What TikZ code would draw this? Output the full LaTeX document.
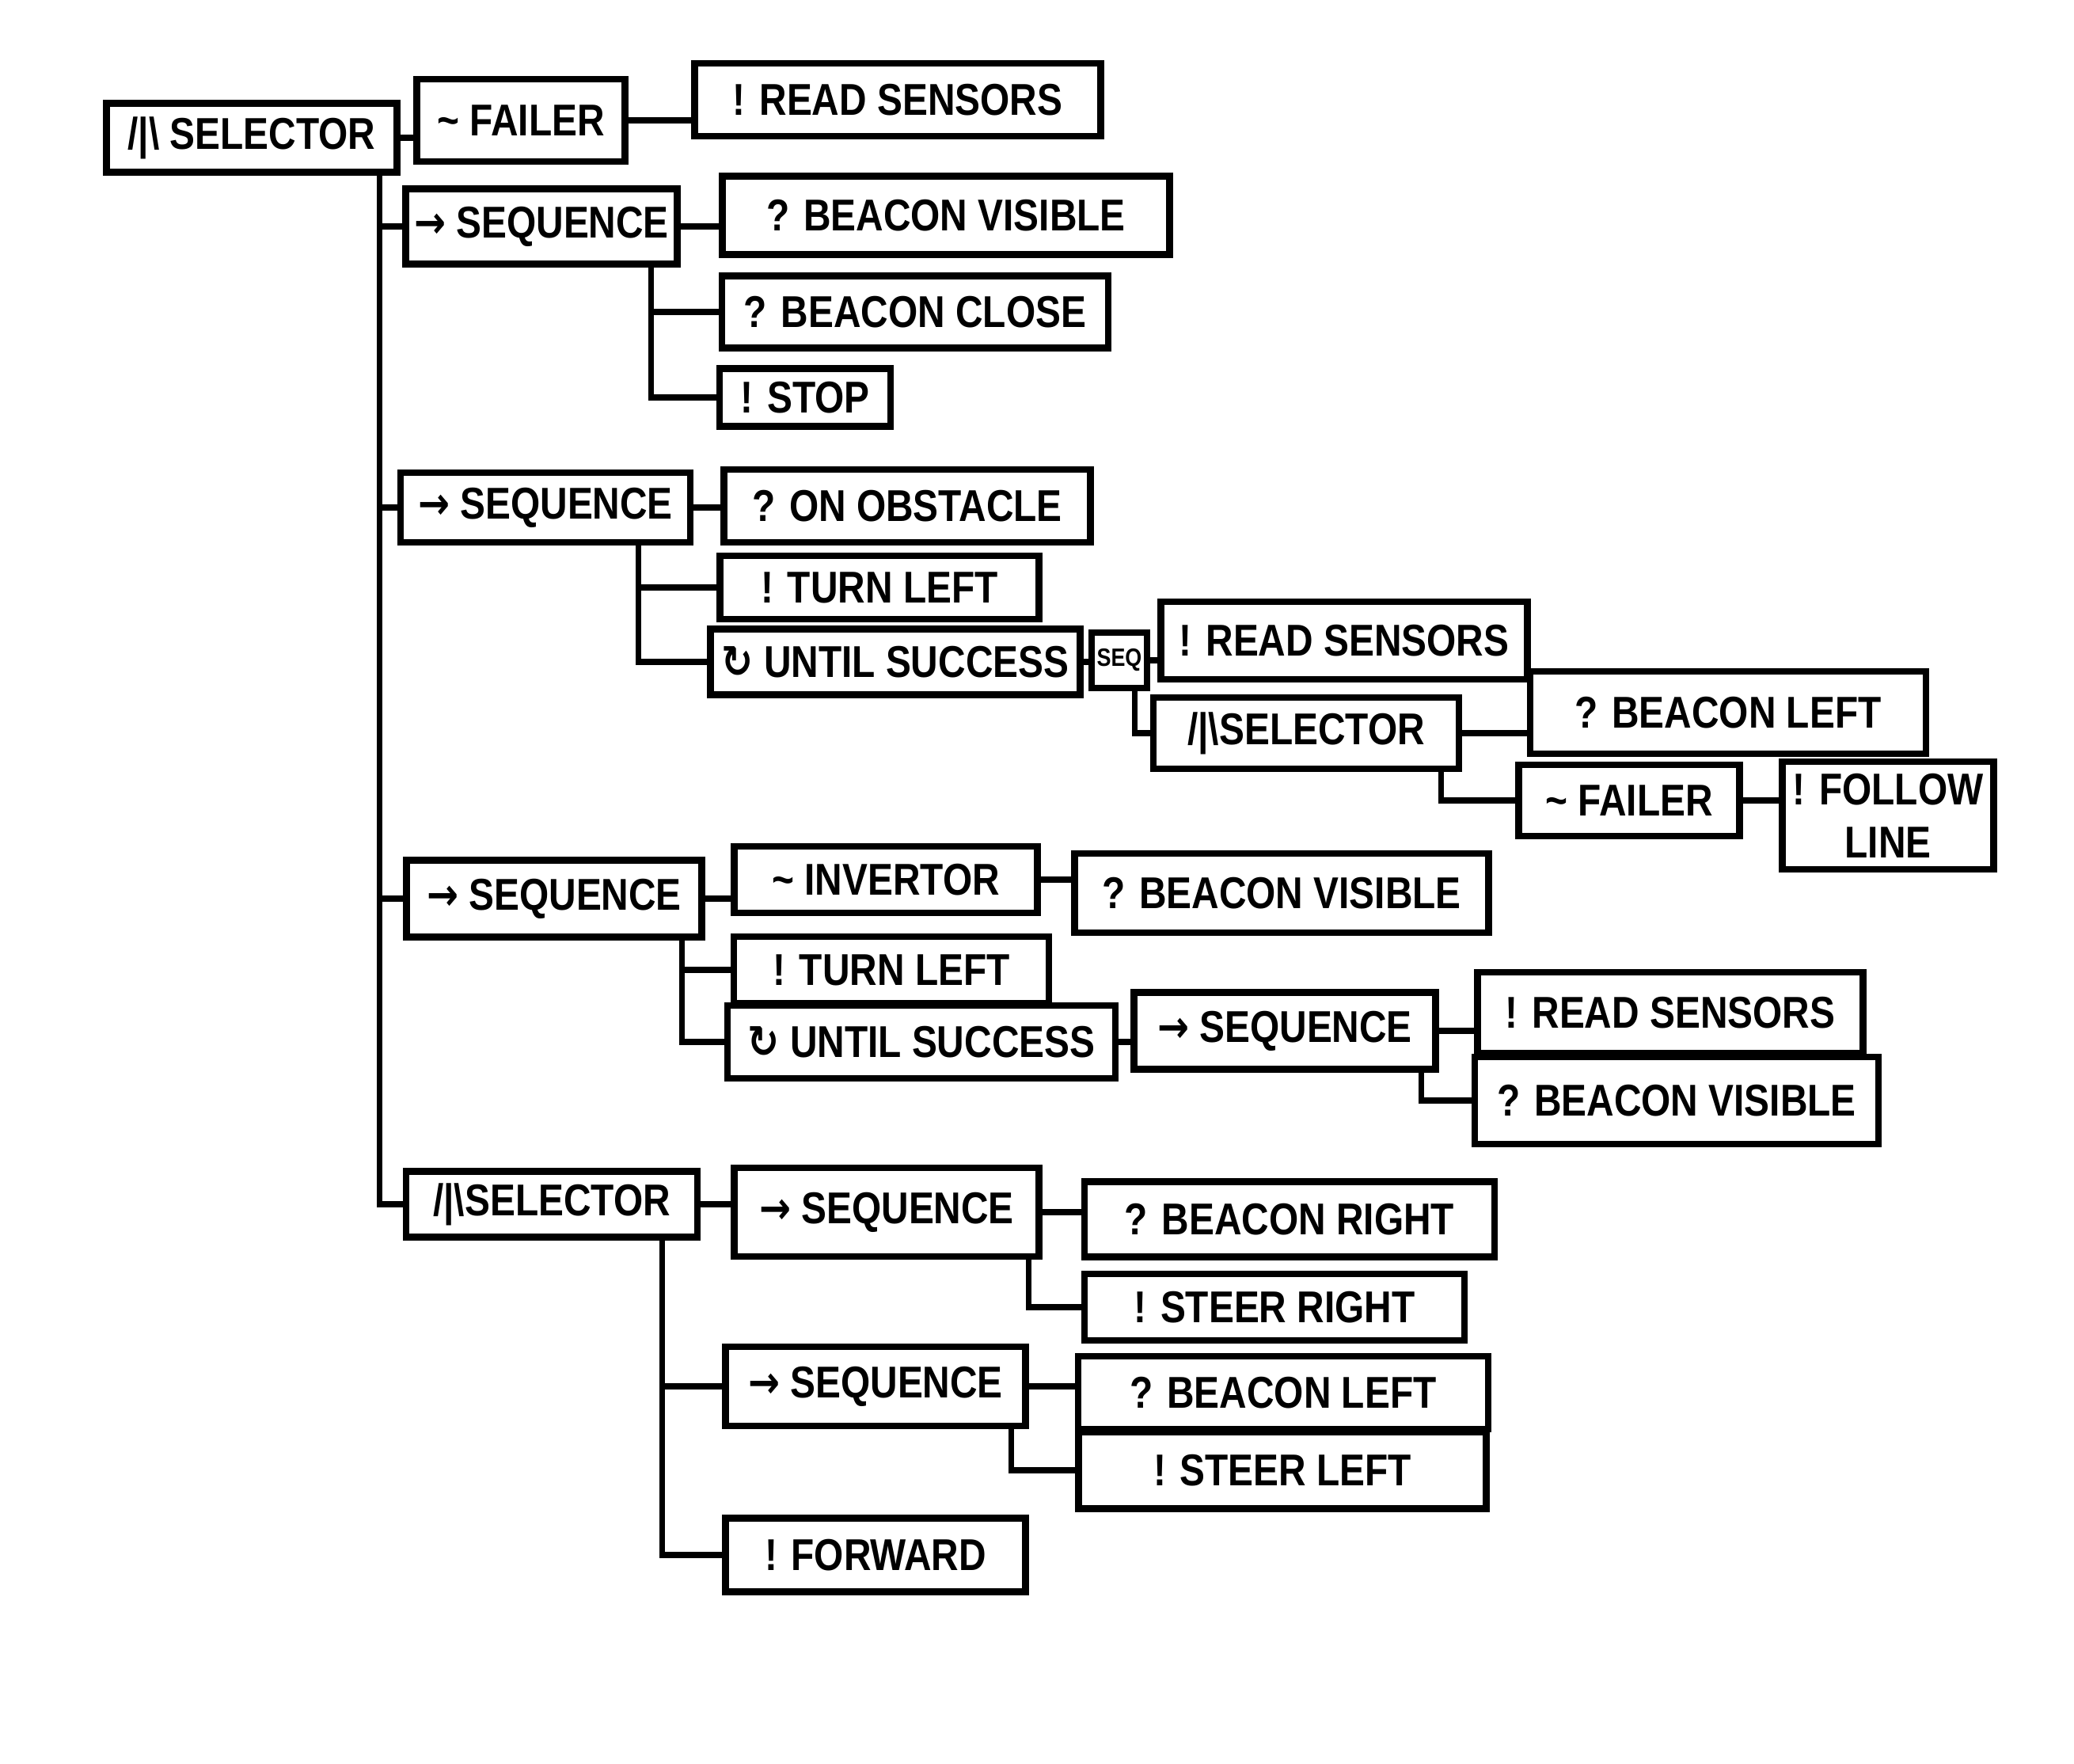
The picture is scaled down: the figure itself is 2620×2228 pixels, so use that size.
\documentclass[tikz,border=0pt]{standalone}
\usepackage{fontspec}
\setmainfont{Liberation Sans}[FakeStretch=0.85]
\newfontfamily\symfont{DejaVu Sans}[FakeStretch=0.85]
\usetikzlibrary{positioning}
\tikzset{
    block/.style={rectangle, draw, line width=2.4pt, align=center, inner sep=3pt, font=\fontsize{16}{19}\selectfont\bfseries},
    small/.style={block, inner sep=1pt, font=\fontsize{9}{10}\selectfont\bfseries},
    link/.style={line width=2pt}
}
\newcommand{\seqsym}{{\symfont →}}
\newcommand{\repsym}{{\symfont ↻}}
\newcommand{\selsym}{/|\textbackslash}

\begin{document}
\begin{tikzpicture}[x=0.01cm, y=-0.01cm]
    \useasboundingbox (0,0) rectangle (2620,2228);

    % Root
    \node[block, minimum width=3.67cm, minimum height=0.87cm] (root) at (318,174) {\selsym\ SELECTOR};
    \node[block, minimum width=2.63cm, minimum height=1.04cm] (failA) at (658,152) {\textasciitilde\ FAILER};
    \node[block, minimum width=5.13cm, minimum height=0.92cm] (readA) at (1134,126) {! READ SENSORS};

    % Branch 1: beacon reached
    \node[block, minimum width=3.37cm, minimum height=0.95cm] (seqA) at (684,286) {\seqsym\ SEQUENCE};
    \node[block, minimum width=5.65cm, minimum height=0.99cm] (visA) at (1195,272) {? BEACON VISIBLE};
    \node[block, minimum width=4.88cm, minimum height=0.91cm] (close) at (1156,394) {? BEACON CLOSE};
    \node[block, minimum width=2.16cm, minimum height=0.73cm] (stop) at (1017,502) {! STOP};

    % Branch 2: obstacle
    \node[block, minimum width=3.66cm, minimum height=0.88cm] (seqB) at (689,641) {\seqsym\ SEQUENCE};
    \node[block, minimum width=4.63cm, minimum height=0.92cm] (obst) at (1146,639) {? ON OBSTACLE};
    \node[block, minimum width=4.03cm, minimum height=0.80cm] (turnA) at (1111,742) {! TURN LEFT};
    \node[block, minimum width=4.67cm, minimum height=0.83cm] (untilA) at (1131,836) {\repsym\ UNTIL SUCCESS};
    \node[small, minimum width=0.70cm, minimum height=0.70cm] (seqS) at (1414,834) {SEQ};
    \node[block, minimum width=4.63cm, minimum height=0.98cm] (readB) at (1698,809) {! READ SENSORS};
    \node[block, minimum width=3.86cm, minimum height=0.90cm] (selIn) at (1650,926) {\selsym SELECTOR};
    \node[block, minimum width=5.00cm, minimum height=1.04cm] (leftA) at (2183,900) {? BEACON LEFT};
    \node[block, minimum width=2.79cm, minimum height=0.90cm] (failB) at (2058,1011) {\textasciitilde\ FAILER};
    \node[block, minimum width=2.67cm, minimum height=1.36cm] (follow) at (2385,1030) {! FOLLOW\\LINE};

    % Branch 3: search for beacon
    \node[block, minimum width=3.73cm, minimum height=0.97cm] (seqC) at (700,1135) {\seqsym\ SEQUENCE};
    \node[block, minimum width=3.83cm, minimum height=0.84cm] (invert) at (1119,1111) {\textasciitilde\ INVERTOR};
    \node[block, minimum width=5.23cm, minimum height=1.00cm] (visB) at (1619,1128) {? BEACON VISIBLE};
    \node[block, minimum width=3.98cm, minimum height=0.84cm] (turnB) at (1126,1225) {! TURN LEFT};
    \node[block, minimum width=4.90cm, minimum height=0.92cm] (untilB) at (1164,1316) {\repsym\ UNTIL SUCCESS};
    \node[block, minimum width=3.81cm, minimum height=0.97cm] (seqD) at (1623,1302) {\seqsym\ SEQUENCE};
    \node[block, minimum width=4.87cm, minimum height=1.02cm] (readC) at (2110,1279) {! READ SENSORS};
    \node[block, minimum width=5.10cm, minimum height=1.10cm] (visC) at (2118,1390) {? BEACON VISIBLE};

    % Branch 4: steering
    \node[block, minimum width=3.68cm, minimum height=0.83cm] (selB) at (697,1521) {\selsym SELECTOR};
    \node[block, minimum width=3.85cm, minimum height=1.12cm] (seqE) at (1120,1531) {\seqsym\ SEQUENCE};
    \node[block, minimum width=5.18cm, minimum height=0.95cm] (right) at (1629,1540) {? BEACON RIGHT};
    \node[block, minimum width=4.80cm, minimum height=0.84cm] (steerR) at (1610,1651) {! STEER RIGHT};
    \node[block, minimum width=3.79cm, minimum height=1.00cm] (seqF) at (1106,1751) {\seqsym\ SEQUENCE};
    \node[block, minimum width=5.18cm, minimum height=0.92cm] (leftB) at (1621,1759) {? BEACON LEFT};
    \node[block, minimum width=5.15cm, minimum height=0.97cm] (steerL) at (1620,1857) {! STEER LEFT};
    \node[block, minimum width=3.79cm, minimum height=0.93cm] (fwd) at (1106,1964) {! FORWARD};

    % Links (first child)
    \draw[link] (root.east) -- (root.east -| failA.west);
    \draw[link] (failA.east) -- (failA.east -| readA.west);
    \draw[link] (seqA.east) -- (seqA.east -| visA.west);
    \draw[link] (seqB.east) -- (seqB.east -| obst.west);
    \draw[link] (untilA.east) -- (untilA.east -| seqS.west);
    \draw[link] (seqS.east) -- (seqS.east -| readB.west);
    \draw[link] (selIn.east) -- (selIn.east -| leftA.west);
    \draw[link] (failB.east) -- (failB.east -| follow.west);
    \draw[link] (seqC.east) -- (seqC.east -| invert.west);
    \draw[link] (invert.east) -- (invert.east -| visB.west);
    \draw[link] (untilB.east) -- (untilB.east -| seqD.west);
    \draw[link] (seqD.east) -- (seqD.east -| readC.west);
    \draw[link] (selB.east) -- (selB.east -| seqE.west);
    \draw[link] (seqE.east) -- (seqE.east -| right.west);
    \draw[link] (seqF.east) -- (seqF.east -| leftB.west);

    % Links (further children, down and across)
    \draw[link] ([xshift=-0.26cm]root.south east) |- (seqA.west);
    \draw[link] ([xshift=-0.26cm]root.south east) |- (seqB.west);
    \draw[link] ([xshift=-0.26cm]root.south east) |- (seqC.west);
    \draw[link] ([xshift=-0.26cm]root.south east) |- (selB.west);
    \draw[link] ([xshift=-0.37cm]seqA.south east) |- (close.west);
    \draw[link] ([xshift=-0.37cm]seqA.south east) |- (stop.west);
    \draw[link] ([xshift=-0.70cm]seqB.south east) |- (turnA.west);
    \draw[link] ([xshift=-0.70cm]seqB.south east) |- (untilA.west);
    \draw[link] ([xshift=-0.20cm]seqS.south east) |- (selIn.west);
    \draw[link] ([xshift=-0.27cm]selIn.south east) |- (failB.west);
    \draw[link] ([xshift=-0.29cm]seqC.south east) |- (turnB.west);
    \draw[link] ([xshift=-0.29cm]seqC.south east) |- (untilB.west);
    \draw[link] ([xshift=-0.22cm]seqD.south east) |- (visC.west);
    \draw[link] ([xshift=-0.49cm]selB.south east) |- (seqF.west);
    \draw[link] ([xshift=-0.49cm]selB.south east) |- (fwd.west);
    \draw[link] ([xshift=-0.17cm]seqE.south east) |- (steerR.west);
    \draw[link] ([xshift=-0.22cm]seqF.south east) |- (steerL.west);

\end{tikzpicture}
\end{document}
